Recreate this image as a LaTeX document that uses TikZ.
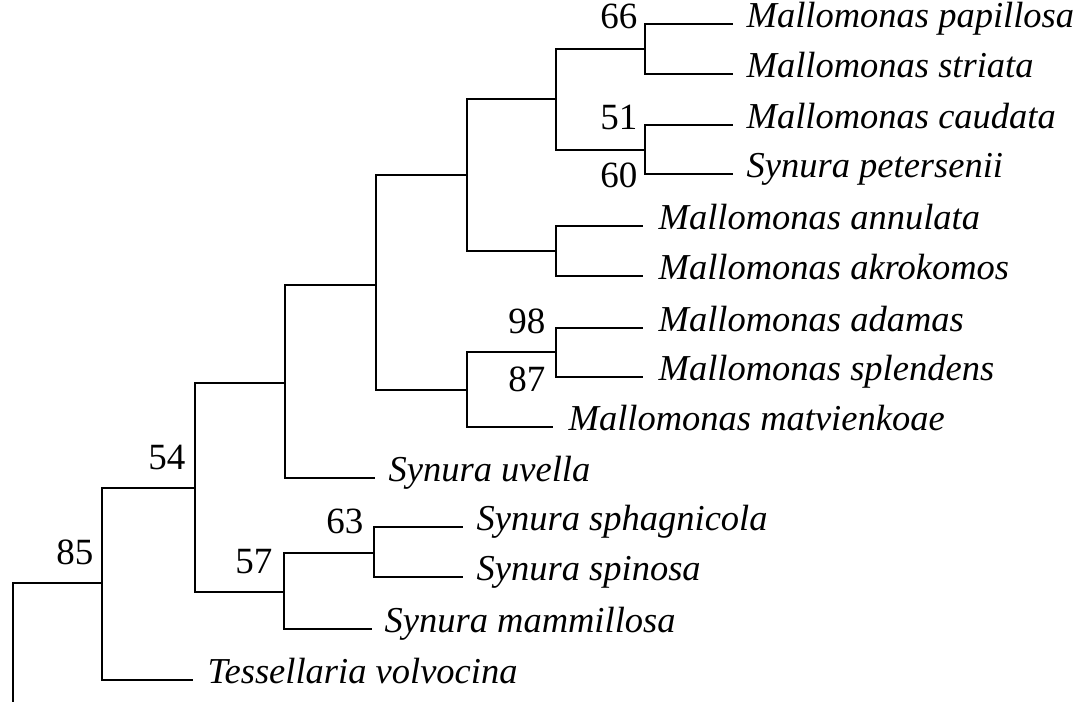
\documentclass[tikz,border=0pt]{standalone}
\usepackage{fontspec}
\setmainfont{Liberation Serif}

\begin{document}
\begin{tikzpicture}[x=1pt, y=-1pt, line width=1.3pt,
  every node/.style={font=\fontsize{37}{40}\selectfont},
  taxon/.style={anchor=west, inner sep=0pt, text height=0.66em, text depth=0pt,
    font=\fontsize{36.5}{40}\selectfont\itshape},
  support/.style={anchor=east, inner sep=0pt, text height=0.68em, text depth=0pt}]
  \useasboundingbox (0,0) rectangle (1088,702);

  % internal nodes
  \coordinate (root) at (13,702);
  \coordinate (n85) at (102,583);
  \coordinate (n54) at (195,488);
  \coordinate (nA) at (285,383);
  \coordinate (nC) at (376,285);
  \coordinate (nD) at (467,175);
  \coordinate (nF) at (556,99);
  \coordinate (n66) at (645,49);
  \coordinate (n51) at (645,150);
  \coordinate (nG) at (556,251);
  \coordinate (nE) at (467,390);
  \coordinate (n98) at (556,352);
  \coordinate (n57) at (284,592);
  \coordinate (n63) at (374,553);

  % taxa
  \node[taxon] (papillosa) at (746,24) {Mallomonas papillosa};
  \node[taxon] (striata) at (746,74) {Mallomonas striata};
  \node[taxon] (caudata) at (746,125) {Mallomonas caudata};
  \node[taxon] (petersenii) at (746,174) {Synura petersenii};
  \node[taxon] (annulata) at (658,226) {Mallomonas annulata};
  \node[taxon] (akrokomos) at (658,276) {Mallomonas akrokomos};
  \node[taxon] (adamas) at (658,328) {Mallomonas adamas};
  \node[taxon] (splendens) at (658,377) {Mallomonas splendens};
  \node[taxon] (matvienkoae) at (568,427) {Mallomonas matvienkoae};
  \node[taxon] (uvella) at (388,478) {Synura uvella};
  \node[taxon] (sphagnicola) at (476,527) {Synura sphagnicola};
  \node[taxon] (spinosa) at (476,577) {Synura spinosa};
  \node[taxon] (mammillosa) at (384,629) {Synura mammillosa};
  \node[taxon] (tessellaria) at (207,680) {Tessellaria volvocina};

  % support values
  \node[support] (s66) at (638,25) {66};
  \node[support] (s51) at (638,126) {51};
  \node[support] (s60) at (638,184) {60};
  \node[support] (s98) at (546,330) {98};
  \node[support] (s87) at (546,388) {87};
  \node[support] (s63) at (364,530) {63};
  \node[support] (s57) at (273,570) {57};
  \node[support] (s54) at (186,466) {54};
  \node[support] (s85) at (94,561) {85};

  % branches
  \draw (root) |- (n85);
  \draw (n85) |- (n54);
  \draw (n85) |- ([xshift=-14pt]tessellaria.west);
  \draw (n54) |- (nA);
  \draw (n54) |- (n57);
  \draw (nA) |- (nC);
  \draw (nA) |- ([xshift=-13pt]uvella.west);
  \draw (nC) |- (nD);
  \draw (nC) |- (nE);
  \draw (nD) |- (nF);
  \draw (nD) |- (nG);
  \draw (nF) |- (n66);
  \draw (nF) |- (n51);
  \draw (n66) |- ([xshift=-13pt]papillosa.west);
  \draw (n66) |- ([xshift=-13pt]striata.west);
  \draw (n51) |- ([xshift=-13pt]caudata.west);
  \draw (n51) |- ([xshift=-13pt]petersenii.west);
  \draw (nG) |- ([xshift=-15pt]annulata.west);
  \draw (nG) |- ([xshift=-15pt]akrokomos.west);
  \draw (nE) |- (n98);
  \draw (nE) |- ([xshift=-15pt]matvienkoae.west);
  \draw (n98) |- ([xshift=-15pt]adamas.west);
  \draw (n98) |- ([xshift=-15pt]splendens.west);
  \draw (n57) |- (n63);
  \draw (n57) |- ([xshift=-12pt]mammillosa.west);
  \draw (n63) |- ([xshift=-13pt]sphagnicola.west);
  \draw (n63) |- ([xshift=-13pt]spinosa.west);
\end{tikzpicture}
\end{document}
